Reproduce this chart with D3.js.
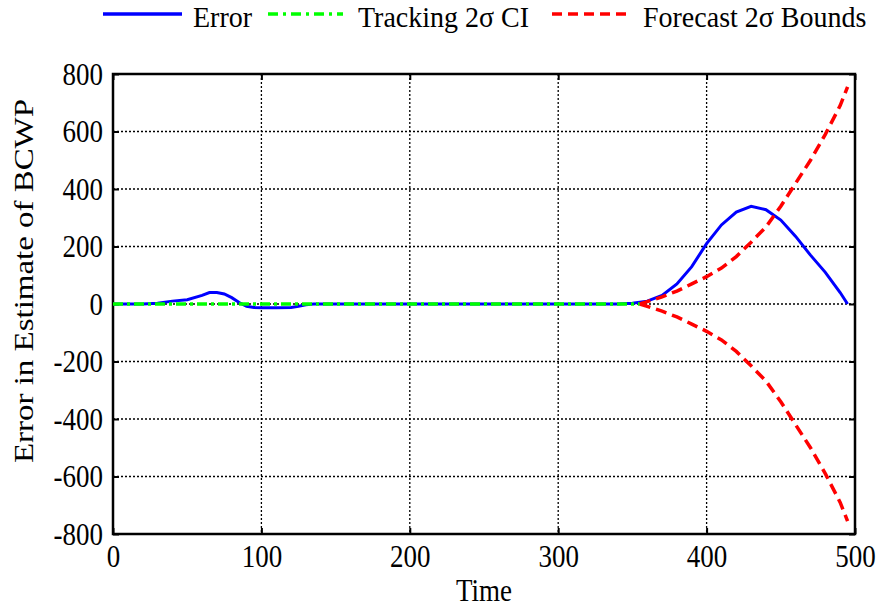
<!DOCTYPE html>
<meta charset="utf-8">
<html>
<head>
<style>
  body { margin: 0; background: #fff; }
  text { font-family: "Liberation Serif", "Times New Roman", serif; fill: #000; }
</style>
</head>
<body>
<script src="https://cdn.jsdelivr.net/npm/d3@7"></script>
<script>
  // Error in estimate over time
  var errTime = [0, 10, 20, 30, 40, 50, 60, 65, 70, 75, 80, 85, 90, 95, 100, 110, 120, 125, 130, 135,
                 200, 300, 340, 350, 360, 370, 380, 390, 400, 410, 420, 430, 440, 450, 460, 470, 480, 490, 495];
  var errVal  = [0, 0, 0, 3, 10, 15, 30, 40, 40, 35, 22, 5, -8, -12, -13, -13, -12, -8, -3, 0,
                 0, 0, 0, 3, 10, 30, 70, 130, 210, 275, 320, 340, 328, 292, 235, 170, 110, 40, 0];

  // Tracking 2 sigma CI (essentially flat)
  var ciTime = [0, 100, 200, 300, 355];
  var ciUpper = [0, 0, 0, 0, 0];
  var ciLower = [0, 0, 0, 0, 0];

  // Forecast 2 sigma bounds
  var fcTime  = [355, 360, 370, 380, 390, 400, 410, 420, 430, 440, 450, 460, 470, 480, 490, 495];
  var fcUpper = [0, 8, 25, 45, 70, 95, 125, 165, 215, 268, 340, 420, 500, 590, 690, 755];
  var fcLower = [0, -8, -25, -45, -70, -95, -125, -165, -215, -268, -340, -420, -500, -590, -690, -755];

  var xTicks = [0, 100, 200, 300, 400, 500];
  var yTicks = [-800, -600, -400, -200, 0, 200, 400, 600, 800];

  var W = 881, H = 608;
  var plotL = 113, plotR = 855, plotT = 74, plotB = 534;
  var fs = 27;
  var stretch = 1.15;   // source image text is a bit taller than wide

  var svg = d3.select("body").append("svg")
    .attr("width", W).attr("height", H);

  var x = d3.scaleLinear().domain([0, 500]).range([plotL, plotR]);
  var y = d3.scaleLinear().domain([-800, 800]).range([plotB, plotT]);

  // grid
  var grid = svg.append("g").attr("stroke", "#000").attr("stroke-width", 1.3)
    .attr("stroke-dasharray", "2,2");
  grid.selectAll(".gx").data(xTicks.slice(1, -1)).enter().append("line")
    .attr("x1", d => x(d)).attr("x2", d => x(d))
    .attr("y1", plotT).attr("y2", plotB);
  grid.selectAll(".gy").data(yTicks.slice(1, -1)).enter().append("line")
    .attr("x1", plotL).attr("x2", plotR)
    .attr("y1", d => y(d)).attr("y2", d => y(d));

  // axes (ticks point inward, on all four sides)
  var xAxis = svg.append("g").attr("transform", "translate(0," + plotB + ")")
    .call(d3.axisBottom(x).tickValues(xTicks).tickSize(-6).tickPadding(12));
  var xAxisTop = svg.append("g").attr("transform", "translate(0," + plotT + ")")
    .call(d3.axisTop(x).tickValues(xTicks).tickSize(-6).tickFormat(""));
  var yAxis = svg.append("g").attr("transform", "translate(" + plotL + ",0)")
    .call(d3.axisLeft(y).tickValues(yTicks).tickSize(-6).tickPadding(10));
  var yAxisRight = svg.append("g").attr("transform", "translate(" + plotR + ",0)")
    .call(d3.axisRight(y).tickValues(yTicks).tickSize(-6).tickFormat(""));

  [xAxis, xAxisTop, yAxis, yAxisRight].forEach(function(a) {
    a.selectAll(".domain").remove();
    a.selectAll(".tick line").attr("stroke", "#000").attr("stroke-width", 2);
    a.selectAll("text").attr("font-size", fs)
      .attr("font-family", "Liberation Serif").attr("fill", "#000")
      .style("transform-box", "fill-box").style("transform-origin", "center")
      .style("transform", "scaleY(" + stretch + ")");
  });
  yAxis.selectAll("text").text(d => d < 0 ? "-" + Math.abs(d) : d);

  svg.append("rect")
    .attr("x", plotL).attr("y", plotT)
    .attr("width", plotR - plotL).attr("height", plotB - plotT)
    .attr("fill", "none").attr("stroke", "#000").attr("stroke-width", 2.5);

  var line = d3.line().x(d => x(d[0])).y(d => y(d[1]));
  var plot = svg.append("g");

  plot.append("path")
    .datum(errTime.map((t, i) => [t, errVal[i]]))
    .attr("d", line).attr("fill", "none")
    .attr("stroke", "#0000ff").attr("stroke-width", 3);

  [ciUpper, ciLower].forEach(function(s) {
    plot.append("path")
      .datum(ciTime.map((t, i) => [t, s[i]]))
      .attr("d", line).attr("fill", "none")
      .attr("stroke", "#00ff00").attr("stroke-width", 3)
      .attr("stroke-dasharray", "10,4,3,4");
  });

  [fcUpper, fcLower].forEach(function(s) {
    plot.append("path")
      .datum(fcTime.map((t, i) => [t, s[i]]))
      .attr("d", line).attr("fill", "none")
      .attr("stroke", "#ff0000").attr("stroke-width", 3.5)
      .attr("stroke-dasharray", "11,6");
  });

  // axis titles
  svg.append("text")
    .attr("transform", "translate(" + (plotL + plotR) / 2 + ",601) scale(1," + stretch + ")")
    .attr("text-anchor", "middle").attr("font-size", fs).text("Time");
  svg.append("text")
    .attr("transform", "translate(33,281) scale(1,1.22) rotate(-90)")
    .attr("text-anchor", "middle").attr("font-size", fs)
    .text("Error in Estimate of BCWP");

  // legend
  var legendItems = [
    {label: "Error", color: "#0000ff", dash: null, x1: 103, x2: 182, tx: 193},
    {label: "Tracking 2\u03c3 CI", color: "#00ff00", dash: "10,5,3,5", x1: 268, x2: 343, tx: 358},
    {label: "Forecast 2\u03c3 Bounds", color: "#ff0000", dash: "10,6", x1: 552, x2: 632, tx: 643}
  ];
  var lg = svg.append("g");
  legendItems.forEach(function(d) {
    lg.append("line").attr("x1", d.x1).attr("x2", d.x2).attr("y1", 14).attr("y2", 14)
      .attr("stroke", d.color).attr("stroke-width", 3.5)
      .attr("stroke-dasharray", d.dash);
    lg.append("text")
      .attr("transform", "translate(" + d.tx + ",27) scale(1,1.08)")
      .attr("font-size", 28).text(d.label);
  });
</script>
</body>
</html>
